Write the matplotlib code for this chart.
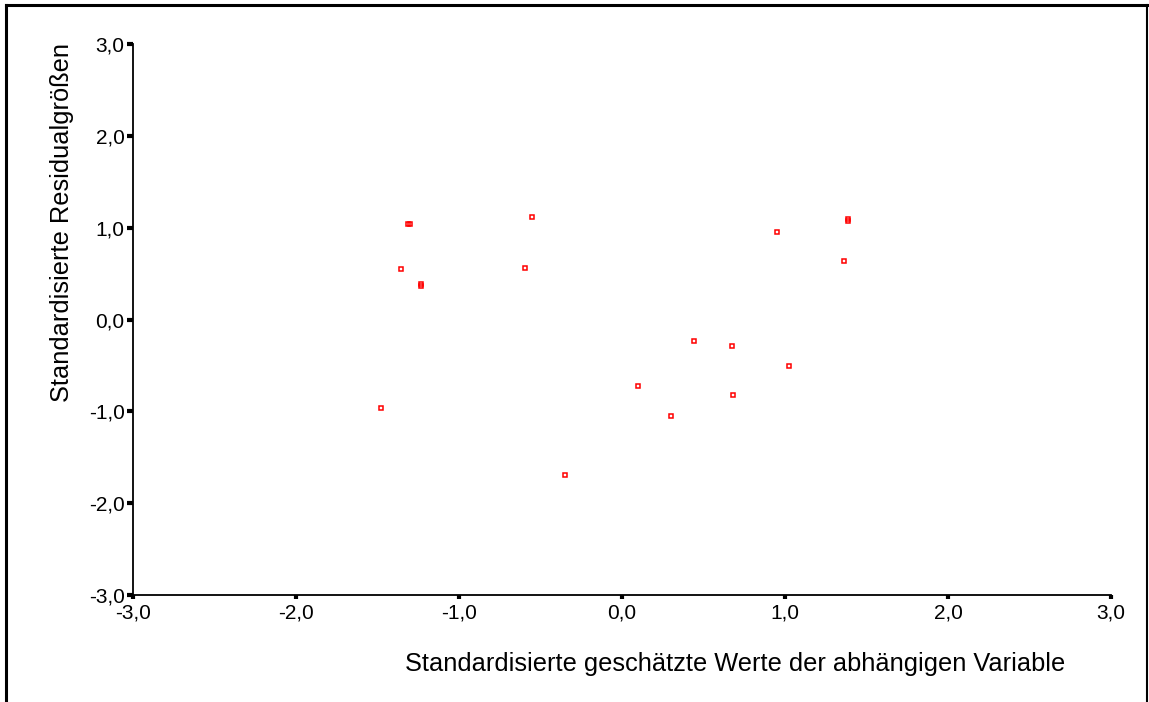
import numpy as np
import matplotlib
matplotlib.use("Agg")
import matplotlib.pyplot as plt
from matplotlib.lines import Line2D
from matplotlib.ticker import FuncFormatter

plt.rcParams["font.family"] = ["Liberation Sans", "DejaVu Sans"]

# standardised predicted values (x) and standardised residuals (y)
pred = [-1.479, -1.356, -1.312, -1.300, -1.235, -1.235, -0.593, -0.552, -0.350,
        0.098, 0.302, 0.444, 0.673, 0.679, 0.95, 1.025, 1.364, 1.387, 1.387]
resid = [-0.962, 0.545, 1.045, 1.045, 0.365, 0.385, 0.560, 1.115, -1.690,
         -0.720, -1.056, -0.236, -0.290, -0.820, 0.95, -0.510, 0.632, 1.070, 1.090]
ticks = [-3, -2, -1, 0, 1, 2, 3]

fig = plt.figure(figsize=(11.49, 7.02), dpi=100)
fig.patch.set_facecolor("white")
ax = fig.add_axes([133/1149, 1-595/702, (1111-133)/1149, (595-44)/702])

ax.plot(pred, resid, ls="none", marker="s", ms=3.2, mfc="none",
        mec="#ff0000", mew=1.1, clip_on=False)

ax.set_xlim(-3, 3)
ax.set_ylim(-3, 3)
ax.set_xticks(ticks)
ax.set_yticks(ticks)
fmt = FuncFormatter(lambda v, p: f"{v:.1f}".replace(".", ","))
ax.xaxis.set_major_formatter(fmt)
ax.yaxis.set_major_formatter(fmt)
ax.tick_params(axis="both", direction="out", length=3, width=3, labelsize=15,
               color="black", pad=3)
ax.tick_params(axis="y", length=4, pad=2)
for s in ["top", "right"]:
    ax.spines[s].set_visible(False)
for s in ["left", "bottom"]:
    ax.spines[s].set_linewidth(1.3)
ax.patch.set_alpha(0)

fig.text(735/1149, 1-664/702, "Standardisierte geschätzte Werte der abhängigen Variable",
         ha="center", va="center", fontsize=18.3)
fig.text(62/1149, 1-222/702, "Standardisierte Residualgrößen", rotation=90,
         ha="center", va="center", fontsize=18.3)

# outer frame
lw = 2.2
fig.add_artist(Line2D([6/1149, 6/1149], [0, 1-5/702], transform=fig.transFigure, color="black", lw=lw))
fig.add_artist(Line2D([6/1149, 1], [1-5/702, 1-5/702], transform=fig.transFigure, color="black", lw=lw))
fig.add_artist(Line2D([1147/1149, 1147/1149], [0, 1-5/702], transform=fig.transFigure, color="black", lw=1.5))

fig.savefig("out.png", dpi=100)
